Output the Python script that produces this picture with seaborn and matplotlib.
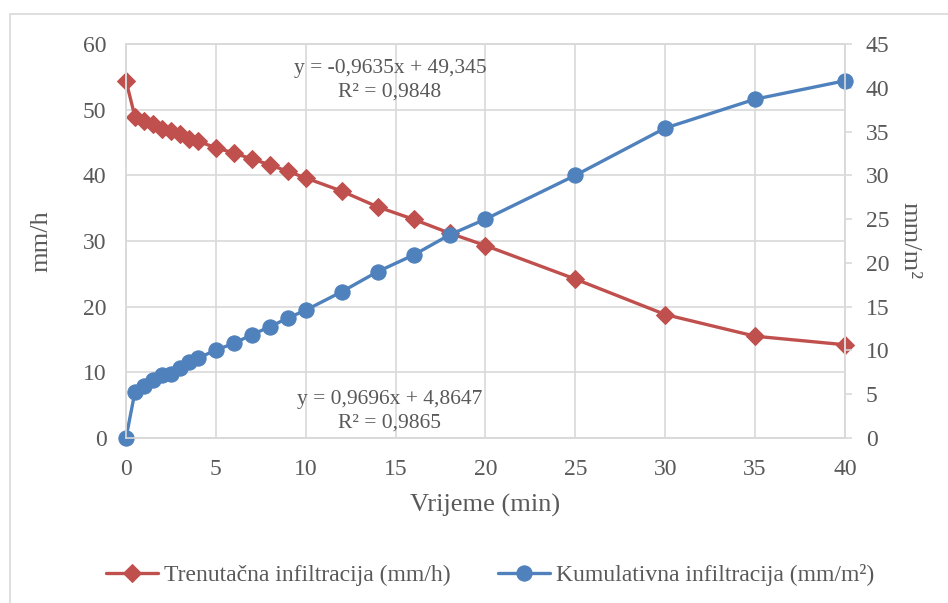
import matplotlib
matplotlib.use('Agg')
import matplotlib.pyplot as plt
import pandas as pd
import seaborn as sns
from matplotlib.patches import Rectangle

# vrijeme (min)
vrijeme = [0, 0.5, 1, 1.5, 2, 2.5, 3, 3.5, 4, 5, 6, 7, 8, 9, 10, 12, 14, 16, 18, 20, 25, 30, 35, 40]
# trenutacna infiltracija (mm/h)
trenutacna = [54.4, 48.9, 48.3, 47.8, 47.1, 46.8, 46.3, 45.6, 45.2, 44.2, 43.4, 42.5, 41.6, 40.6,
              39.6, 37.6, 35.2, 33.3, 31.2, 29.3, 24.2, 18.8, 15.5, 14.2]
# kumulativna infiltracija (mm/m2)
kumulativna = [0, 5.3, 5.9, 6.6, 7.25, 7.35, 8.05, 8.65, 9.1, 10.05, 10.8, 11.8, 12.7, 13.7,
               14.6, 16.7, 19.0, 20.9, 23.2, 25.0, 30.0, 35.4, 38.7, 40.8]

eq1 = 'y = -0,9635x + 49,345\nR² = 0,9848'
eq2 = 'y = 0,9696x + 4,8647\nR² = 0,9865'
lab1 = 'Trenutačna infiltracija (mm/h)'
lab2 = 'Kumulativna infiltracija (mm/m²)'

crvena = '#C0504D'
plava = '#4F81BD'
siva = '#595959'
mreza = '#D9D9D9'

df = pd.DataFrame({'t': vrijeme, 'f': trenutacna, 'F': kumulativna})

sns.set_style('white')
plt.rcParams['font.family'] = ['Liberation Serif', 'DejaVu Serif']
plt.rcParams['text.color'] = siva
plt.rcParams['axes.labelcolor'] = siva
plt.rcParams['xtick.color'] = siva
plt.rcParams['ytick.color'] = siva

fig = plt.figure(figsize=(9.48, 6.03), dpi=100)
fig.patches.append(Rectangle((10/948, -0.01), 1.0, 1 - 14/603 + 0.01, transform=fig.transFigure,
                             fill=False, edgecolor=mreza, linewidth=1.2))
ax = fig.add_axes([126/948, 1 - 438/603, (845-126)/948, (438-44)/603])
ax2 = ax.twinx()

sns.lineplot(data=df, x='t', y='f', ax=ax, color=crvena, marker='D', markersize=9,
             markeredgecolor=crvena, linewidth=2.4, label=lab1, legend=False, clip_on=False)
sns.lineplot(data=df, x='t', y='F', ax=ax2, color=plava, marker='o', markersize=11,
             markeredgecolor=plava, linewidth=2.4, label=lab2, legend=False, clip_on=False)

ax.set_xlim(0, 40)
ax.set_ylim(0, 60)
ax2.set_ylim(0, 45)
ax.set_xticks(range(0, 41, 5))
ax.set_yticks(range(0, 61, 10))
ax2.set_yticks(range(0, 46, 5))
ax.grid(True, color=mreza, linewidth=1.2)
ax.set_axisbelow(True)
for a in (ax, ax2):
    for s in a.spines.values():
        s.set_color(mreza)
        s.set_linewidth(1.2)
ax.tick_params(axis='both', length=0, pad=14, labelsize=17)
ax.tick_params(axis='x', pad=15)
ax2.tick_params(axis='y', length=5, width=1.2, color=mreza, pad=10, labelsize=17)

ax.set_xlabel('Vrijeme (min)', fontsize=19, labelpad=10)
ax.set_ylabel('mm/h', fontsize=19, labelpad=22)
ax2.set_ylabel('mm/m²', fontsize=19, rotation=270, labelpad=22)

ax.text(390/948, 1 - 80/603, eq1, transform=fig.transFigure, ha='center', va='center',
        fontsize=15.5, linespacing=1.3)
ax.text(390/948, 1 - 411/603, eq2, transform=fig.transFigure, ha='center', va='center',
        fontsize=15.5, linespacing=1.3)

h1, l1 = ax.get_legend_handles_labels()
h2, l2 = ax2.get_legend_handles_labels()
fig.legend(h1 + h2, l1 + l2, loc='center', bbox_to_anchor=(490/948, 1 - 575/603), ncol=2,
           frameon=False, fontsize=17, handlelength=2.2, handletextpad=0.25, columnspacing=2.0)

fig.savefig('out.png', dpi=100)
